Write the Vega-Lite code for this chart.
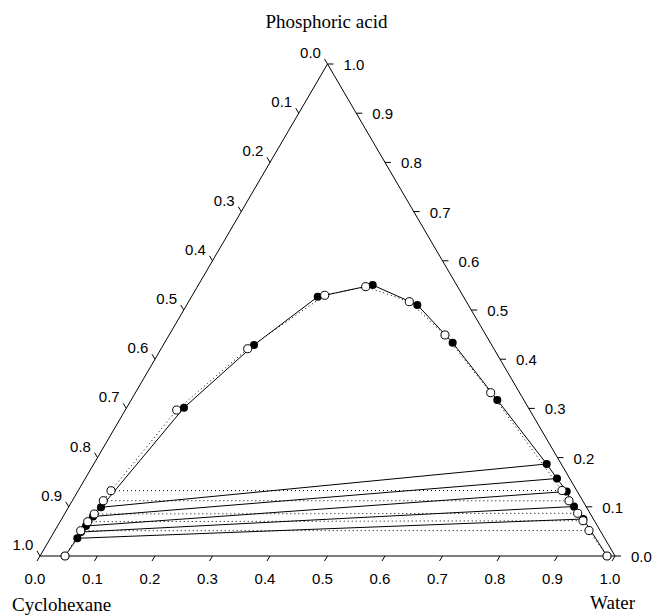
{
  "$schema": "https://vega.github.io/schema/vega-lite/v6.json",
  "width": 575,
  "height": 492,
  "autosize": {"type": "none"},
  "padding": {"left": 40, "top": 64, "right": 39, "bottom": 59},
  "background": "white",
  "config": {"view": {"stroke": null}},
  "datasets": {
    "frame": [
      {"x": 0, "y": 0, "x2": 1, "y2": 0},
      {"x": 0, "y": 0, "x2": 0.5, "y2": 1},
      {"x": 1, "y": 0, "x2": 0.5, "y2": 1}
    ],
    "ticks": [
      {"axis": "bottom", "v": "0.0", "x": 0.0, "y": 0},
      {"axis": "bottom", "v": "0.1", "x": 0.1, "y": 0},
      {"axis": "bottom", "v": "0.2", "x": 0.2, "y": 0},
      {"axis": "bottom", "v": "0.3", "x": 0.3, "y": 0},
      {"axis": "bottom", "v": "0.4", "x": 0.4, "y": 0},
      {"axis": "bottom", "v": "0.5", "x": 0.5, "y": 0},
      {"axis": "bottom", "v": "0.6", "x": 0.6, "y": 0},
      {"axis": "bottom", "v": "0.7", "x": 0.7, "y": 0},
      {"axis": "bottom", "v": "0.8", "x": 0.8, "y": 0},
      {"axis": "bottom", "v": "0.9", "x": 0.9, "y": 0},
      {"axis": "bottom", "v": "1.0", "x": 1.0, "y": 0},
      {"axis": "right", "v": "0.0", "x": 1.0, "y": 0.0},
      {"axis": "right", "v": "0.1", "x": 0.95, "y": 0.1},
      {"axis": "right", "v": "0.2", "x": 0.9, "y": 0.2},
      {"axis": "right", "v": "0.3", "x": 0.85, "y": 0.3},
      {"axis": "right", "v": "0.4", "x": 0.8, "y": 0.4},
      {"axis": "right", "v": "0.5", "x": 0.75, "y": 0.5},
      {"axis": "right", "v": "0.6", "x": 0.7, "y": 0.6},
      {"axis": "right", "v": "0.7", "x": 0.65, "y": 0.7},
      {"axis": "right", "v": "0.8", "x": 0.6, "y": 0.8},
      {"axis": "right", "v": "0.9", "x": 0.55, "y": 0.9},
      {"axis": "right", "v": "1.0", "x": 0.5, "y": 1.0},
      {"axis": "left", "v": "0.0", "x": 0.5, "y": 1.0},
      {"axis": "left", "v": "0.1", "x": 0.45, "y": 0.9},
      {"axis": "left", "v": "0.2", "x": 0.4, "y": 0.8},
      {"axis": "left", "v": "0.3", "x": 0.35, "y": 0.7},
      {"axis": "left", "v": "0.4", "x": 0.3, "y": 0.6},
      {"axis": "left", "v": "0.5", "x": 0.25, "y": 0.5},
      {"axis": "left", "v": "0.6", "x": 0.2, "y": 0.4},
      {"axis": "left", "v": "0.7", "x": 0.15, "y": 0.3},
      {"axis": "left", "v": "0.8", "x": 0.1, "y": 0.2},
      {"axis": "left", "v": "0.9", "x": 0.05, "y": 0.1},
      {"axis": "left", "v": "1.0", "x": 0.0, "y": 0.0}
    ],
    "titles": [
      {"name": "Phosphoric acid", "x": 0.5, "y": 1, "pos": "top"},
      {"name": "Cyclohexane", "x": 0, "y": 0, "pos": "left"},
      {"name": "Water", "x": 1, "y": 0, "pos": "right"}
    ],
    "pts": [
      {"set": "exp", "i": 1, "x": 0.0435, "acid": 0.0, "tie": null},
      {"set": "exp", "i": 2, "x": 0.0649, "acid": 0.036, "tie": "e5"},
      {"set": "exp", "i": 3, "x": 0.0713, "acid": 0.0488, "tie": "e4"},
      {"set": "exp", "i": 4, "x": 0.08, "acid": 0.061, "tie": "e3"},
      {"set": "exp", "i": 5, "x": 0.0922, "acid": 0.0803, "tie": "e2"},
      {"set": "exp", "i": 6, "x": 0.1061, "acid": 0.099, "tie": "e1"},
      {"set": "exp", "i": 7, "x": 0.2504, "acid": 0.3014, "tie": null},
      {"set": "exp", "i": 8, "x": 0.3722, "acid": 0.4289, "tie": null},
      {"set": "exp", "i": 9, "x": 0.483, "acid": 0.527, "tie": null},
      {"set": "exp", "i": 10, "x": 0.5786, "acid": 0.5508, "tie": null},
      {"set": "exp", "i": 11, "x": 0.6562, "acid": 0.5102, "tie": null},
      {"set": "exp", "i": 12, "x": 0.7177, "acid": 0.4335, "tie": null},
      {"set": "exp", "i": 13, "x": 0.7953, "acid": 0.3171, "tie": null},
      {"set": "exp", "i": 14, "x": 0.8812, "acid": 0.187, "tie": "e1"},
      {"set": "exp", "i": 15, "x": 0.8991, "acid": 0.1575, "tie": "e2"},
      {"set": "exp", "i": 16, "x": 0.916, "acid": 0.1311, "tie": "e3"},
      {"set": "exp", "i": 17, "x": 0.9287, "acid": 0.1006, "tie": "e4"},
      {"set": "exp", "i": 18, "x": 0.9449, "acid": 0.0752, "tie": "e5"},
      {"set": "exp", "i": 19, "x": 0.9861, "acid": 0.0, "tie": null},
      {"set": "calc", "i": 1, "x": 0.0435, "acid": 0.0, "tie": null},
      {"set": "calc", "i": 2, "x": 0.0708, "acid": 0.0514, "tie": "c5"},
      {"set": "calc", "i": 3, "x": 0.083, "acid": 0.0697, "tie": "c4"},
      {"set": "calc", "i": 4, "x": 0.0944, "acid": 0.0854, "tie": "c3"},
      {"set": "calc", "i": 5, "x": 0.1101, "acid": 0.1124, "tie": "c2"},
      {"set": "calc", "i": 6, "x": 0.1235, "acid": 0.1327, "tie": "c1"},
      {"set": "calc", "i": 7, "x": 0.2377, "acid": 0.2967, "tie": null},
      {"set": "calc", "i": 8, "x": 0.3612, "acid": 0.4213, "tie": null},
      {"set": "calc", "i": 9, "x": 0.4951, "acid": 0.5299, "tie": null},
      {"set": "calc", "i": 10, "x": 0.5664, "acid": 0.5474, "tie": null},
      {"set": "calc", "i": 11, "x": 0.6423, "acid": 0.5169, "tie": null},
      {"set": "calc", "i": 12, "x": 0.7043, "acid": 0.4492, "tie": null},
      {"set": "calc", "i": 13, "x": 0.7838, "acid": 0.3319, "tie": null},
      {"set": "calc", "i": 14, "x": 0.9078, "acid": 0.1331, "tie": "c1"},
      {"set": "calc", "i": 15, "x": 0.92, "acid": 0.1122, "tie": "c2"},
      {"set": "calc", "i": 16, "x": 0.9351, "acid": 0.0868, "tie": "c3"},
      {"set": "calc", "i": 17, "x": 0.9443, "acid": 0.0717, "tie": "c4"},
      {"set": "calc", "i": 18, "x": 0.9548, "acid": 0.0518, "tie": "c5"},
      {"set": "calc", "i": 19, "x": 0.9861, "acid": 0.0, "tie": null}
    ]
  },
  "layer": [
    {
      "data": {"name": "frame"},
      "mark": {"type": "rule", "color": "black", "strokeWidth": 1},
      "encoding": {
        "x": {"field": "x", "type": "quantitative", "scale": {"domain": [0, 1], "nice": false, "zero": false}, "axis": null},
        "y": {"field": "y", "type": "quantitative", "scale": {"domain": [0, 1], "nice": false, "zero": false}, "axis": null},
        "x2": {"field": "x2"},
        "y2": {"field": "y2"}
      }
    },
    {
      "data": {"name": "ticks"},
      "transform": [{"filter": "datum.axis == 'bottom'"}],
      "mark": {"type": "rule", "color": "black", "strokeWidth": 1, "x2Offset": -3, "y2Offset": 5},
      "encoding": {
        "x": {"field": "x", "type": "quantitative"},
        "y": {"field": "y", "type": "quantitative"},
        "x2": {"field": "x"},
        "y2": {"field": "y"}
      }
    },
    {
      "data": {"name": "ticks"},
      "transform": [{"filter": "datum.axis == 'right'"}],
      "mark": {"type": "rule", "color": "black", "strokeWidth": 1, "x2Offset": 6, "y2Offset": 0},
      "encoding": {
        "x": {"field": "x", "type": "quantitative"},
        "y": {"field": "y", "type": "quantitative"},
        "x2": {"field": "x"},
        "y2": {"field": "y"}
      }
    },
    {
      "data": {"name": "ticks"},
      "transform": [{"filter": "datum.axis == 'left'"}],
      "mark": {"type": "rule", "color": "black", "strokeWidth": 1, "x2Offset": -3, "y2Offset": -5},
      "encoding": {
        "x": {"field": "x", "type": "quantitative"},
        "y": {"field": "y", "type": "quantitative"},
        "x2": {"field": "x"},
        "y2": {"field": "y"}
      }
    },
    {
      "data": {"name": "ticks"},
      "transform": [{"filter": "datum.axis == 'bottom'"}],
      "mark": {"type": "text", "font": "Liberation Sans", "fontSize": 15, "color": "black", "align": "center", "baseline": "middle", "dx": -5, "dy": 23},
      "encoding": {
        "x": {"field": "x", "type": "quantitative"},
        "y": {"field": "y", "type": "quantitative"},
        "text": {"field": "v"}
      }
    },
    {
      "data": {"name": "ticks"},
      "transform": [{"filter": "datum.axis == 'right'"}],
      "mark": {"type": "text", "font": "Liberation Sans", "fontSize": 15, "color": "black", "align": "left", "baseline": "middle", "dx": 16, "dy": 1},
      "encoding": {
        "x": {"field": "x", "type": "quantitative"},
        "y": {"field": "y", "type": "quantitative"},
        "text": {"field": "v"}
      }
    },
    {
      "data": {"name": "ticks"},
      "transform": [{"filter": "datum.axis == 'left'"}],
      "mark": {"type": "text", "font": "Liberation Sans", "fontSize": 15, "color": "black", "align": "center", "baseline": "middle", "dx": -17, "dy": -11},
      "encoding": {
        "x": {"field": "x", "type": "quantitative"},
        "y": {"field": "y", "type": "quantitative"},
        "text": {"field": "v"}
      }
    },
    {
      "data": {"name": "titles"},
      "transform": [{"filter": "datum.pos == 'top'"}],
      "mark": {"type": "text", "font": "Liberation Serif", "fontSize": 19, "color": "black", "align": "center", "baseline": "alphabetic", "dx": -1, "dy": -36},
      "encoding": {
        "x": {"field": "x", "type": "quantitative"},
        "y": {"field": "y", "type": "quantitative"},
        "text": {"field": "name"}
      }
    },
    {
      "data": {"name": "titles"},
      "transform": [{"filter": "datum.pos == 'left'"}],
      "mark": {"type": "text", "font": "Liberation Serif", "fontSize": 19, "color": "black", "align": "left", "baseline": "alphabetic", "dx": -28, "dy": 55},
      "encoding": {
        "x": {"field": "x", "type": "quantitative"},
        "y": {"field": "y", "type": "quantitative"},
        "text": {"field": "name"}
      }
    },
    {
      "data": {"name": "titles"},
      "transform": [{"filter": "datum.pos == 'right'"}],
      "mark": {"type": "text", "font": "Liberation Serif", "fontSize": 19, "color": "black", "align": "right", "baseline": "alphabetic", "dx": 20, "dy": 53},
      "encoding": {
        "x": {"field": "x", "type": "quantitative"},
        "y": {"field": "y", "type": "quantitative"},
        "text": {"field": "name"}
      }
    },
    {
      "data": {"name": "pts"},
      "transform": [{"filter": "datum.set == 'calc'"}],
      "mark": {"type": "line", "color": "black", "strokeWidth": 1, "strokeDash": [1, 3]},
      "encoding": {
        "x": {"field": "x", "type": "quantitative"},
        "y": {"field": "acid", "type": "quantitative"},
        "order": {"field": "i", "type": "quantitative"}
      }
    },
    {
      "data": {"name": "pts"},
      "transform": [{"filter": "datum.set == 'calc' && datum.tie != null"}],
      "mark": {"type": "line", "color": "black", "strokeWidth": 1, "strokeDash": [1, 3]},
      "encoding": {
        "x": {"field": "x", "type": "quantitative"},
        "y": {"field": "acid", "type": "quantitative"},
        "detail": {"field": "tie"},
        "order": {"field": "x", "type": "quantitative"}
      }
    },
    {
      "data": {"name": "pts"},
      "transform": [{"filter": "datum.set == 'exp'"}],
      "mark": {"type": "line", "color": "black", "strokeWidth": 1},
      "encoding": {
        "x": {"field": "x", "type": "quantitative"},
        "y": {"field": "acid", "type": "quantitative"},
        "order": {"field": "i", "type": "quantitative"}
      }
    },
    {
      "data": {"name": "pts"},
      "transform": [{"filter": "datum.set == 'exp' && datum.tie != null"}],
      "mark": {"type": "line", "color": "black", "strokeWidth": 1},
      "encoding": {
        "x": {"field": "x", "type": "quantitative"},
        "y": {"field": "acid", "type": "quantitative"},
        "detail": {"field": "tie"},
        "order": {"field": "x", "type": "quantitative"}
      }
    },
    {
      "data": {"name": "pts"},
      "transform": [{"filter": "datum.set == 'exp'"}],
      "mark": {"type": "point", "shape": "circle", "filled": true, "color": "black", "size": 65, "opacity": 1},
      "encoding": {
        "x": {"field": "x", "type": "quantitative"},
        "y": {"field": "acid", "type": "quantitative"}
      }
    },
    {
      "data": {"name": "pts"},
      "transform": [{"filter": "datum.set == 'calc'"}],
      "mark": {"type": "point", "shape": "circle", "filled": true, "fill": "white", "stroke": "black", "strokeWidth": 1, "size": 65, "opacity": 1},
      "encoding": {
        "x": {"field": "x", "type": "quantitative"},
        "y": {"field": "acid", "type": "quantitative"}
      }
    }
  ]
}
